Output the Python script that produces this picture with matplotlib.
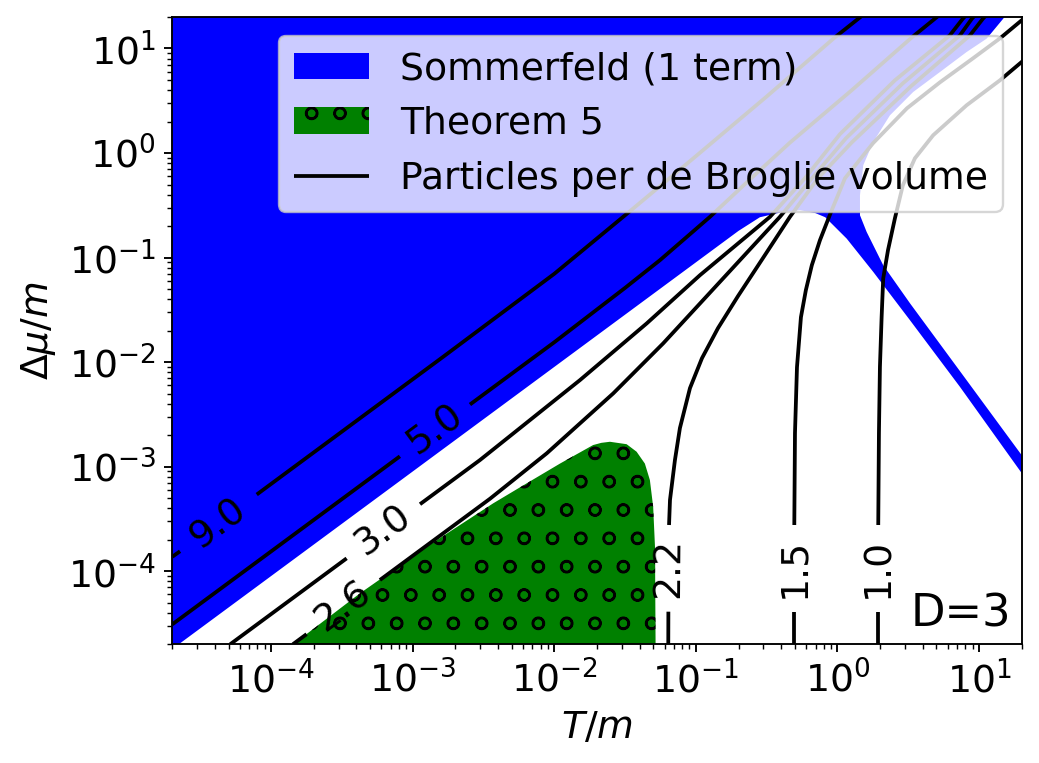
import math
import matplotlib
matplotlib.use("Agg")
import matplotlib.pyplot as plt
from matplotlib.ticker import NullFormatter

# --- values (T/m, Δμ/m) ---
X_LIM = (2e-5, 20)
Y_LIM = (2e-5, 20)
MAJOR_TICKS = [1e-4, 1e-3, 1e-2, 1e-1, 1e0, 1e1]

# region where the 1-term Sommerfeld expansion holds
somm_T = [1e-5, 0.01, 0.1, 0.20, 0.283, 0.40, 0.543, 0.70, 0.82, 1.161, 1.79, 3.25,
          7.33, 20.0, 25.1, 25.1, 20.0, 7.33, 3.25, 2.104, 1.607, 1.442, 1.442, 1.521,
          1.790, 2.349, 3.428, 5.30, 8.17, 11.32, 14.83, 15.74, 1e-5]
somm_dmu = [9.0e-6, 9.0e-3, 0.090, 0.18, 0.243, 0.271, 0.284, 0.266, 0.243, 0.152,
            0.0729, 0.0252, 5.8e-3, 8.69e-4, 5.7e-4, 8.7e-4, 1.29e-3, 8.2e-3, 0.0366,
            0.0845, 0.176, 0.254, 0.394, 0.764, 1.276, 2.296, 3.837, 5.96, 9.25,
            12.42, 19.3, 21.7, 30.0]

# region covered by Theorem 5
thm_T = [1.15e-4, 1.43e-4, 4.24e-4, 1.25e-3, 3.70e-3, 6.37e-3, 0.01096, 0.0188,
         0.0215, 0.0247, 0.0324, 0.0381, 0.0436, 0.0473, 0.0499, 0.0514, 0.0519,
         0.0520]
thm_dmu = [1.58e-5, 2.0e-5, 6.15e-5, 1.71e-4, 4.46e-4, 6.92e-4, 1.07e-3, 1.61e-3,
           1.69e-3, 1.73e-3, 1.64e-3, 1.39e-3, 1.07e-3, 7.45e-4, 4.13e-4, 1.71e-4,
           2.0e-5, 1.58e-5]

# particles per de Broglie volume: level -> line pieces (the gap holds the label)
levels = ["9.0", "5.0", "3.0", "2.6", "2.2", "1.5", "1.0"]
pieces_T = {
    "9.0": [[2.0e-5, 2.27e-5],
            [7.9e-5, 1.64e-3, 0.01, 0.0316, 0.1, 0.316, 0.96, 1.48]],
    "5.0": [[2.0e-5, 8.11e-4],
            [2.535e-3, 0.01, 0.0316, 0.0557, 0.1256, 0.251, 0.461, 1.259, 3.36, 5.25]],
    "3.0": [[5.13e-5, 3.41e-4],
            [1.125e-3, 2.98e-3, 5.13e-3, 0.01517, 0.0449, 0.1069, 0.3334, 0.589,
             1.040, 2.547, 6.22, 7.69, 8.35]],
    "2.6": [[1.422e-4, 1.778e-4],
            [5.86e-4, 3.51e-3, 8.83e-3, 0.02606, 0.0587, 0.1069, 0.3917, 0.661,
             1.148, 2.897, 7.33, 8.91, 9.66]],
    "2.2": [[0.0638, 0.0639],
            [0.0646, 0.0656, 0.0711, 0.0771, 0.0908, 0.1104, 0.1432, 0.1982, 0.2972,
             0.4613, 0.728, 1.265, 3.30, 8.63, 10.66, 11.56]],
    "1.5": [[0.4932, 0.4932],
            [0.4955, 0.501, 0.5176, 0.552, 0.598, 0.659, 0.752, 0.899, 1.130, 1.782,
             3.097, 5.30, 9.06, 14.06, 20.0, 22.9]],
    "1.0": [[1.941, 1.941],
            [1.941, 1.963, 1.995, 2.051, 2.104, 2.275, 2.547, 2.897, 3.524, 4.74,
             8.17, 14.06, 20.0, 22.9]],
}
pieces_dmu = {
    "9.0": [[1.374e-4, 1.552e-4],
            [5.41e-4, 0.01125, 0.070, 0.254, 0.933, 3.47, 12.8, 20.4]],
    "5.0": [[3.10e-5, 1.256e-3],
            [3.93e-3, 0.0155, 0.0513, 0.0944, 0.245, 0.589, 1.256, 3.98, 12.8, 20.9]],
    "3.0": [[2.0e-5, 1.327e-4],
            [4.375e-4, 1.156e-3, 2.08e-3, 6.73e-3, 0.02344, 0.0679, 0.245, 0.574,
             1.513, 4.966, 13.37, 19.3, 21.7]],
    "2.6": [[2.0e-5, 2.5e-5],
            [8.24e-5, 4.93e-4, 1.34e-3, 5.02e-3, 0.0151, 0.0364, 0.245, 0.574,
             1.384, 4.645, 13.37, 19.3, 21.7]],
    "2.2": [[2.0e-5, 4.10e-5],
            [2.767e-4, 4.80e-4, 1.156e-3, 2.34e-3, 5.64e-3, 0.01091, 0.02113, 0.04276,
             0.0986, 0.245, 0.574, 1.268, 4.345, 13.37, 19.3, 21.7]],
    "1.5": [[2.0e-5, 4.10e-5],
            [2.767e-4, 2.094e-3, 8.95e-3, 0.0269, 0.0488, 0.0845, 0.1466, 0.2716,
             0.574, 1.241, 2.68, 4.75, 8.05, 12.5, 18.6, 21.7]],
    "1.0": [[2.0e-5, 4.10e-5],
            [2.767e-4, 2.094e-3, 9.02e-3, 0.0271, 0.0631, 0.1178, 0.2382, 0.492,
             0.891, 1.479, 2.864, 4.966, 7.43, 8.61]],
}
# where each level's label sits
label_T = {"9.0": 4.23e-5, "5.0": 1.436e-3, "3.0": 6.18e-4, "2.6": 3.23e-4,
           "2.2": 0.0639, "1.5": 0.4932, "1.0": 1.941}
label_dmu = {"9.0": 2.87e-4, "5.0": 2.254e-3, "3.0": 2.43e-4, "2.6": 4.57e-5,
             "2.2": 1.067e-4, "1.5": 1.067e-4, "1.0": 1.067e-4}

DPI = 170
FS = 16


def main():
    fig = plt.figure(figsize=(1039 / DPI, 763 / DPI), dpi=DPI)
    ax = fig.add_axes([0.1658, 0.1556, 0.8175, 0.8221])
    ax.set_xscale("log")
    ax.set_yscale("log")
    ax.set_xticks(MAJOR_TICKS)
    ax.set_yticks(MAJOR_TICKS)
    ax.xaxis.set_minor_formatter(NullFormatter())
    ax.yaxis.set_minor_formatter(NullFormatter())
    ax.set_xlim(*X_LIM)
    ax.set_ylim(*Y_LIM)

    # regiões
    ax.fill(somm_T, somm_dmu, facecolor="blue", edgecolor="none", lw=0,
            label="Sommerfeld (1 term)")
    ax.fill(thm_T, thm_dmu, facecolor="green", edgecolor="black", lw=0,
            hatch="o", label="Theorem 5")

    # curvas de nível
    first = True
    for lev in levels:
        for xs, ys in zip(pieces_T[lev], pieces_dmu[lev]):
            ax.plot(xs, ys, color="black", lw=1.6, solid_capstyle="butt",
                    solid_joinstyle="round",
                    label="Particles per de Broglie volume" if first else None)
            first = False

    # rótulos das curvas, alinhados com o trecho antes do rótulo
    for lev in levels:
        xa, ya = pieces_T[lev][0][-1], pieces_dmu[lev][0][-1]
        xb, yb = pieces_T[lev][1][0], pieces_dmu[lev][1][0]
        (pa, qa), (pb, qb) = ax.transData.transform([(xa, ya), (xb, yb)])
        ang = math.degrees(math.atan2(qb - qa, pb - pa))
        ax.text(label_T[lev], label_dmu[lev], lev, rotation=ang,
                rotation_mode="anchor", ha="center", va="center", fontsize=FS)

    ax.text(0.988, 0.014, "D=3", transform=ax.transAxes, ha="right",
            va="bottom", fontsize=19)

    ax.set_xlabel("$T/m$", fontsize=FS)
    ax.set_ylabel(r"$\Delta\mu/m$", fontsize=FS)
    ax.tick_params(labelsize=FS)

    ax.legend(loc="upper right", fontsize=FS)

    fig.savefig("out.png", dpi=DPI)


if __name__ == "__main__":
    main()
